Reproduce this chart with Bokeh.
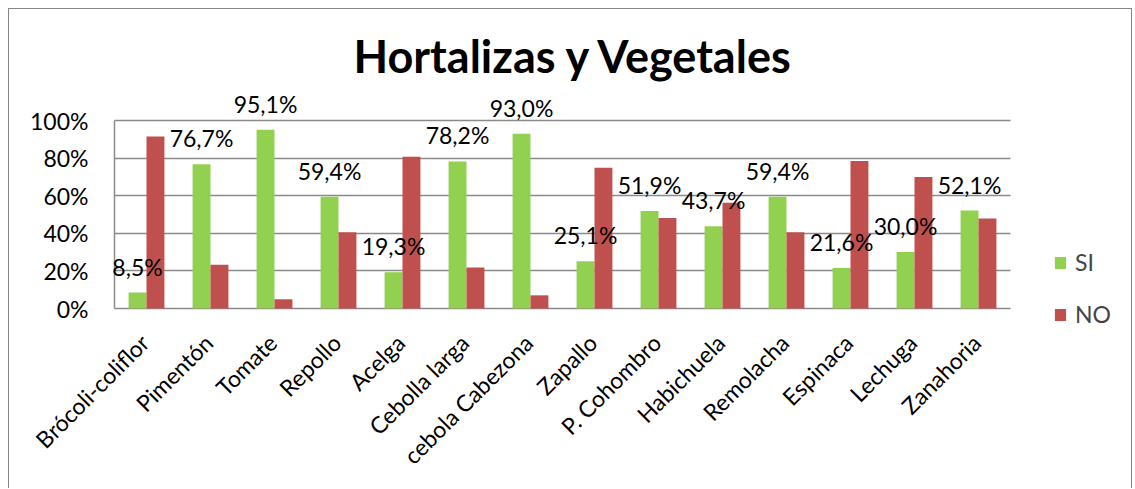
from math import pi
from bokeh.plotting import figure
from bokeh.models import (Range1d, ColumnDataSource, LabelSet, Legend,
                          LegendItem, FixedTicker, Grid)
from bokeh.core.properties import value
from bokeh.transform import dodge
from bokeh.embed import file_html
from bokeh.resources import INLINE

categories = ["Brócoli-coliflor", "Pimentón", "Tomate", "Repollo", "Acelga",
              "Cebolla larga", "cebola Cabezona", "Zapallo", "P. Cohombro",
              "Habichuela", "Remolacha", "Espinaca", "Lechuga", "Zanahoria"]
si_values = [8.5, 76.7, 95.1, 59.4, 19.3, 78.2, 93.0, 25.1, 51.9, 43.7, 59.4, 21.6, 30.0, 52.1]
no_values = [91.5, 23.3, 4.9, 40.6, 80.7, 21.8, 7.0, 74.9, 48.1, 56.3, 40.6, 78.4, 70.0, 47.9]
y_ticks = [0, 20, 40, 60, 80, 100]
y_tick_labels = ["0%", "20%", "40%", "60%", "80%", "100%"]

FONT = "Lato"
GREEN = "#92D050"
RED = "#C0504D"
GRID = "#8a8a8a"
FS = "23px"

n = len(categories)
src = ColumnDataSource(dict(
    idx=list(range(n)), cat=categories, si=si_values, no=no_values,
    zero=[0] * n,
    lab=[f"{v:.1f}%".replace(".", ",") for v in si_values],
))
tick_src = ColumnDataSource(dict(y=y_ticks, lab=y_tick_labels, x=[-0.5] * len(y_ticks)))

# geometry: canvas starts at page (9, 9); 64 px per category, 1.88 px per point
W, H = 1124, 480
TOP = 76
PX_X, PX_Y = 64.0, 1.88
AXIS_X = 114 - 9          # canvas px of category boundary -0.5
ZERO_Y = 308 - 9 - TOP    # frame px from top to y = 0
x_start = -0.5 - AXIS_X / PX_X
x_end = x_start + W / PX_X
y_end = ZERO_Y / PX_Y
y_start = -(H - TOP - ZERO_Y) / PX_Y

p = figure(x_range=Range1d(x_start, x_end), y_range=Range1d(y_start, y_end),
           x_axis_type=None, y_axis_type=None,
           width=W, height=H,
           min_border_left=0, min_border_right=0,
           min_border_top=TOP, min_border_bottom=0,
           output_backend="svg", toolbar_location=None)
p.styles = {"margin-left": "8px", "margin-top": "8px",
            "border-left": "1px solid #868686", "border-top": "1px solid #868686",
            "border-right": "1px solid #868686"}
p.outline_line_color = None

p.title.text = "Hortalizas y Vegetales"
p.title.text_font = FONT
p.title.text_font_size = "45px"
p.title.text_font_style = "bold"
p.title.text_color = "black"
p.title.align = "left"
p.title.offset = 344
p.title.standoff = 6

# gridlines and vertical axis line
p.add_layout(Grid(dimension=1, ticker=FixedTicker(ticks=y_ticks),
                  cross_bounds=(-0.5, n - 0.5),
                  grid_line_color=GRID, grid_line_width=1.5))
p.add_layout(Grid(dimension=0, ticker=FixedTicker(ticks=[-0.5]),
                  cross_bounds=(0, 100),
                  grid_line_color=GRID, grid_line_width=1.5))

r_si = p.vbar(x=dodge("idx", -0.14), top="si", bottom=0, width=0.28,
              source=src, fill_color=GREEN, line_color=None)
r_no = p.vbar(x=dodge("idx", 0.14), top="no", bottom=0, width=0.28,
              source=src, fill_color=RED, line_color=None)

p.add_layout(LabelSet(x=dodge("idx", -0.14), y="si", text="lab",
                      source=src, text_align="center", text_baseline="middle",
                      y_offset=26, text_font=value(FONT), text_font_size=FS,
                      text_color="black"))

p.add_layout(LabelSet(x="idx", y="zero", text="cat", source=src, angle=pi / 4,
                      text_align="right", text_baseline="middle",
                      x_offset=-2, y_offset=-30,
                      text_font=value(FONT), text_font_size=FS, text_color="black"))

p.add_layout(LabelSet(x="x", y="y", text="lab", source=tick_src,
                      text_align="right", text_baseline="middle", x_offset=-26,
                      text_font=value(FONT), text_font_size=FS, text_color="black"))

legend = Legend(items=[LegendItem(label="SI", renderers=[r_si]),
                       LegendItem(label="NO", renderers=[r_no])],
                location=(1044, 161), orientation="vertical",
                border_line_color=None, background_fill_alpha=0,
                padding=0, margin=0, spacing=24,
                glyph_width=14, glyph_height=15, label_height=24,
                label_standoff=8,
                label_text_font=FONT, label_text_font_size=FS)
p.add_layout(legend)

open("out.html", "w").write(file_html(p, INLINE))
